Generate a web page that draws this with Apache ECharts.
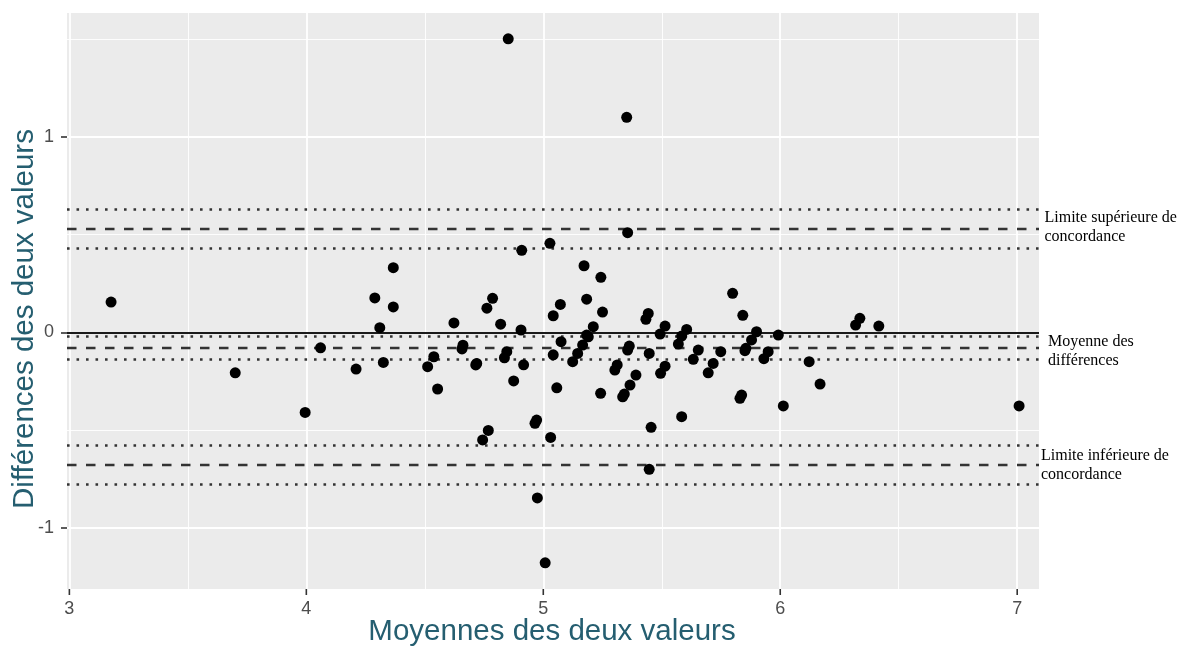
<!DOCTYPE html>
<html>
<head>
<meta charset="utf-8">
<script src="https://cdn.jsdelivr.net/npm/echarts@6/dist/echarts.min.js"></script>
<style>
html,body{margin:0;padding:0;background:#fff;}
#chart{width:1183px;height:648px;}
</style>
</head>
<body>
<div id="chart"></div>
<script>
// Moyennes des deux valeurs (x) et différences (y)
const moyennes = [
  3.176, 3.70, 3.995, 4.06, 4.21, 4.31, 4.325, 4.367, 4.289, 4.367,
  4.512, 4.538, 4.554, 4.623, 5.028, 4.909, 5.172, 4.786, 4.762, 5.183,
  5.072, 5.042, 4.82, 4.906, 4.661, 4.657, 4.846, 4.836, 4.715, 4.719,
  4.917, 4.875, 5.057, 5.075, 5.042, 5.124, 5.145, 5.166, 5.183, 5.243,
  5.25, 5.443, 5.433, 5.211, 5.19, 5.514, 5.493, 5.605, 5.584, 5.57,
  5.363, 5.356, 5.447, 5.312, 5.302, 5.391, 5.366, 5.342, 5.335, 5.242,
  5.514, 5.495, 5.654, 5.633, 5.717, 5.696, 5.584, 5.455, 5.447, 4.768,
  4.744, 4.972, 4.965, 5.031, 4.975, 5.008, 5.799, 5.842, 5.9, 5.879,
  5.855, 5.851, 5.949, 5.931, 5.992, 5.749, 5.837, 5.83, 6.013, 6.122,
  6.168, 6.336, 6.318, 6.416, 7.008, 4.852, 5.352, 5.356
];
const differences = [
  0.155, -0.207, -0.41, -0.079, -0.188, 0.024, -0.154, 0.331, 0.176, 0.13,
  -0.176, -0.125, -0.29, 0.048, 0.456, 0.42, 0.341, 0.174, 0.124, 0.17,
  0.143, 0.085, 0.042, 0.012, -0.066, -0.085, -0.099, -0.13, -0.167, -0.159,
  -0.166, -0.249, -0.284, -0.048, -0.115, -0.15, -0.108, -0.065, -0.014, 0.282,
  0.104, 0.097, 0.067, 0.029, -0.023, 0.032, -0.009, 0.015, -0.019, -0.06,
  -0.07, -0.091, -0.108, -0.167, -0.193, -0.219, -0.27, -0.316, -0.33, -0.312,
  -0.173, -0.21, -0.091, -0.138, -0.159, -0.207, -0.432, -0.486, -0.701, -0.502,
  -0.551, -0.449, -0.466, -0.538, -0.848, -1.18, 0.2, 0.087, 0.003, -0.039,
  -0.082, -0.094, -0.099, -0.135, -0.014, -0.099, -0.321, -0.338, -0.377, -0.15,
  -0.265, 0.072, 0.037, 0.032, -0.377, 1.503, 1.101, 0.51
];

// Axes
const xTicks = [3, 4, 5, 6, 7];
const xMinorTicks = [3.5, 4.5, 5.5, 6.5];
const yTicks = [-1, 0, 1];
const yMinorTicks = [-0.5, 0.5, 1.5];
const xRange = [2.99, 7.092];
const yRange = [-1.314, 1.635];

// Lignes de Bland-Altman
const moyenneDiff = -0.079;
const icMoyenneDiff = [-0.017, -0.137];
const limiteSup = 0.527;
const icLimiteSup = [0.625, 0.428];
const limiteInf = -0.681;
const icLimiteInf = [-0.582, -0.778];

const labelsDroite = [
  { value: limiteSup, text: 'Limite supérieure de\nconcordance', dx: 5.5, dy: -2 },
  { value: moyenneDiff, text: 'Moyenne des\ndifférences', dx: 9, dy: 4 },
  { value: limiteInf, text: 'Limite inférieure de\nconcordance', dx: 2, dy: 0 }
];

const chart = echarts.init(document.getElementById('chart'), null, { renderer: 'canvas' });

const gridLines = [];
xTicks.forEach(v => gridLines.push({ xAxis: v, lineStyle: { color: '#fff', width: 1.8, type: 'solid' } }));
xMinorTicks.forEach(v => gridLines.push({ xAxis: v, lineStyle: { color: '#fff', width: 0.9, type: 'solid' } }));
yTicks.forEach(v => gridLines.push({ yAxis: v, lineStyle: { color: '#fff', width: 1.8, type: 'solid' } }));
yMinorTicks.forEach(v => gridLines.push({ yAxis: v, lineStyle: { color: '#fff', width: 0.9, type: 'solid' } }));

const dashed = { color: '#333', width: 2.4, type: [9.5, 9.5], cap: 'butt' };
const dotted = { color: '#333', width: 2.6, type: [2.6, 6.9], cap: 'butt' };
const refLines = [
  { yAxis: 0, lineStyle: { color: '#1a1a1a', width: 1.8, type: 'solid' } },
  { yAxis: moyenneDiff, lineStyle: dashed },
  { yAxis: icMoyenneDiff[0], lineStyle: dotted },
  { yAxis: icMoyenneDiff[1], lineStyle: dotted },
  { yAxis: limiteSup, lineStyle: dashed },
  { yAxis: icLimiteSup[0], lineStyle: dotted },
  { yAxis: icLimiteSup[1], lineStyle: dotted },
  { yAxis: limiteInf, lineStyle: dashed },
  { yAxis: icLimiteInf[0], lineStyle: dotted },
  { yAxis: icLimiteInf[1], lineStyle: dotted }
];

const tickLabelStyle = { color: '#4D4D4D', fontSize: 18, fontFamily: 'Liberation Sans, Arial, sans-serif' };

const option = {
  animation: false,
  backgroundColor: '#fff',
  grid: { left: 67, top: 13, width: 972, height: 576, show: true, backgroundColor: '#EBEBEB', borderWidth: 0 },
  xAxis: {
    type: 'value', min: xRange[0], max: xRange[1],
    axisLine: { show: false },
    axisTick: { show: false },
    axisLabel: Object.assign({ customValues: xTicks, margin: 11 }, tickLabelStyle),
    splitLine: { show: false }
  },
  yAxis: {
    type: 'value', min: yRange[0], max: yRange[1],
    axisLine: { show: false },
    axisTick: { show: true, customValues: yTicks, length: 6, lineStyle: { color: '#333', width: 1.6 } },
    axisLabel: Object.assign({ customValues: yTicks, margin: 13, formatter: v => String(v) }, tickLabelStyle),
    splitLine: { show: false }
  },
  series: [
    {
      type: 'line', data: [], z: 1, silent: true,
      markLine: { silent: true, symbol: ['none', 'none'], label: { show: false }, animation: false, data: gridLines }
    },
    {
      type: 'line', data: [], z: 2, silent: true,
      markLine: { silent: true, symbol: ['none', 'none'], label: { show: false }, animation: false, data: refLines }
    },
    {
      type: 'scatter', z: 5, symbol: 'circle', symbolSize: 11,
      itemStyle: { color: '#000', opacity: 1 },
      data: moyennes.map((m, i) => [m, differences[i]])
    }
  ]
};
chart.setOption(option);

const rightEdge = chart.convertToPixel({ gridIndex: 0 }, [xRange[1], 0])[0];
const bottomEdge = chart.convertToPixel({ gridIndex: 0 }, [xRange[0], yRange[0]])[1];
const graphics = labelsDroite.map(l => {
  const py = chart.convertToPixel({ gridIndex: 0 }, [xRange[1], l.value])[1];
  return {
    type: 'text', x: rightEdge + l.dx, y: py + l.dy, z: 10,
    style: {
      text: l.text, fill: '#000', fontSize: 16, lineHeight: 19,
      fontFamily: 'Liberation Serif, Times New Roman, serif',
      align: 'left', verticalAlign: 'middle'
    }
  };
});
// x-axis tick marks
xTicks.forEach(v => {
  const px = chart.convertToPixel({ gridIndex: 0 }, [v, yRange[0]])[0];
  graphics.push({
    type: 'line', z: 10, silent: true,
    shape: { x1: px, y1: bottomEdge, x2: px, y2: bottomEdge + 6 },
    style: { stroke: '#333', lineWidth: 1.6 }
  });
});
const titleColor = '#255E70';
graphics.push({
  type: 'text', x: 552, y: 632, z: 10,
  style: { text: 'Moyennes des deux valeurs', fill: titleColor, fontSize: 29.5,
    fontFamily: 'Liberation Sans, Arial, sans-serif', align: 'center', verticalAlign: 'middle' }
});
graphics.push({
  type: 'text', x: 25, y: 319, rotation: Math.PI / 2, z: 10,
  style: { text: 'Différences des deux valeurs', fill: titleColor, fontSize: 29.5,
    fontFamily: 'Liberation Sans, Arial, sans-serif', align: 'center', verticalAlign: 'middle' }
});
chart.setOption({ graphic: graphics });
</script>
</body>
</html>
